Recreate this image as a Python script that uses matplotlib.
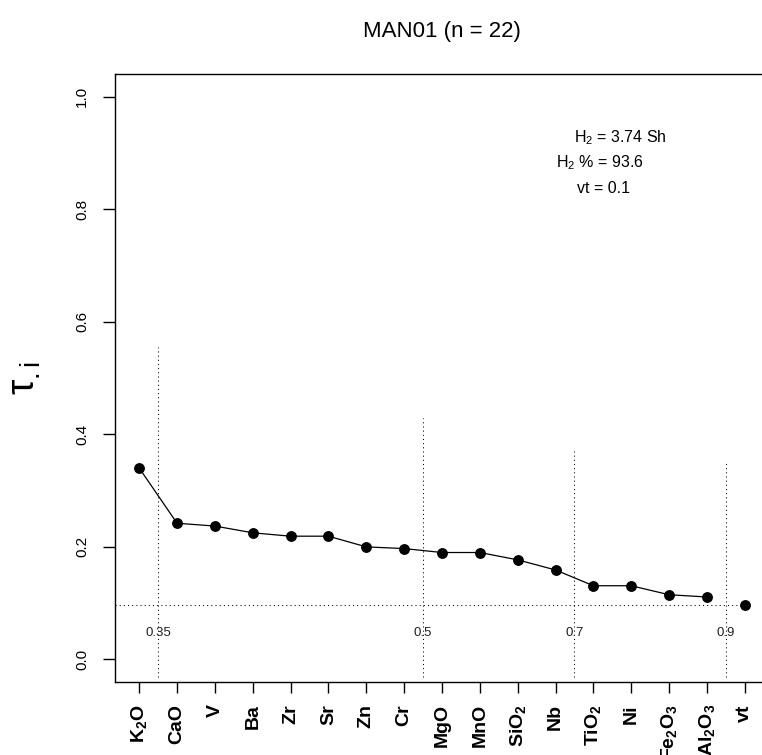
import matplotlib
matplotlib.use("Agg")
import matplotlib.pyplot as plt

plt.rcParams['font.family'] = ['Liberation Sans', 'DejaVu Sans']
plt.rcParams['mathtext.fontset'] = 'custom'
plt.rcParams['mathtext.rm'] = 'Liberation Sans'
plt.rcParams['mathtext.it'] = 'Liberation Sans:italic'
plt.rcParams['mathtext.bf'] = 'Liberation Sans:bold'

# ---- data ----
elements = [r'$\mathbf{K_2O}$', 'CaO', 'V', 'Ba', 'Zr', 'Sr', 'Zn', 'Cr', 'MgO', 'MnO',
            r'$\mathbf{SiO_2}$', 'Nb', r'$\mathbf{TiO_2}$', 'Ni',
            r'$\mathbf{Fe_2O_3}$', r'$\mathbf{Al_2O_3}$', 'vt']
tau = [0.340, 0.242, 0.237, 0.225, 0.219, 0.219, 0.200, 0.197, 0.190, 0.190,
       0.177, 0.159, 0.131, 0.131, 0.115, 0.111]
vt_value = 0.097
cut_pos = [1.5, 8.5, 12.5, 16.5]
cut_labels = ['0.35', '0.5', '0.7', '0.9']
cut_tops = [0.555, 0.429, 0.375, 0.349]
yticks = [0.0, 0.2, 0.4, 0.6, 0.8, 1.0]
ytick_labels = ['0.0', '0.2', '0.4', '0.6', '0.8', '1.0']
title = 'MAN01 (n = 22)'
info_lines = [r'H$_2$ = 3.74 Sh', r'H$_2$ % = 93.6', 'vt = 0.1']

fig = plt.figure(figsize=(7.62, 7.55), dpi=100)
ax = fig.add_axes([115/762, 1-682/755, (769-115)/762, (682-74)/755])

n = len(elements)
xs = list(range(1, n + 1))
ax.set_xlim(0.36, n + 0.64)
ax.set_ylim(-0.04, 1.04)

# main line
ax.plot(xs[:len(tau)], tau, color='black', lw=0.9, marker='o', ms=6.8,
        markerfacecolor='black', markeredgecolor='black', zorder=3)
ax.plot([xs[-1]], [vt_value], 'o', color='black', ms=6.8, zorder=3)

dot = (0, (1, 3))
# horizontal threshold line
ax.plot([0.36, xs[-1]], [vt_value, vt_value], color='black', lw=0.75, ls=dot, zorder=2)

# vertical cut lines
for xp, lab, top in zip(cut_pos, cut_labels, cut_tops):
    ax.plot([xp, xp], [-0.032, top], color='black', lw=0.75, ls=dot, zorder=2)
    ax.text(xp, 0.0474, lab, ha='center', va='center', fontsize=9.5, color='#222222')

# info text
info_x = [13.72, 13.17, 13.28]
info_y = [0.9186, 0.8734, 0.8279]
for tx, ty, s in zip(info_x, info_y, info_lines):
    ax.text(tx, ty, s, ha='center', va='baseline', fontsize=11.5)

# axes styling
for sp in ['left', 'bottom', 'top', 'right']:
    ax.spines[sp].set_linewidth(1.0)
ax.set_xticks(xs)
ax.set_xticklabels(elements, rotation=90, fontsize=14, fontweight='bold')
ax.set_yticks(yticks)
ax.set_yticklabels(ytick_labels, rotation=90, va='center', fontsize=11)
ax.tick_params(axis='x', length=8, width=1, pad=8)
ax.tick_params(axis='y', length=8.6, width=1, pad=10)

ax.set_title(title, fontsize=16, pad=27)
fig.text(25/762, 1-378/755, r'τ$_{\mathrm{.i}}$', rotation=90, ha='center', va='center', fontsize=28)

fig.savefig('out.png', dpi=100)
